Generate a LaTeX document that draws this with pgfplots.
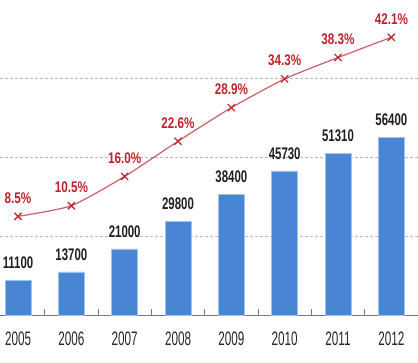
\documentclass[border=0pt]{standalone}
\usepackage{pgfplots}
\pgfplotsset{compat=1.18}
\usepackage{fontspec}
\setmainfont{Liberation Sans}
\newfontfamily\valfont{Liberation Sans}[FakeStretch=0.68]
\newfontfamily\pctfont{Liberation Sans}[FakeStretch=0.76]
\newfontfamily\yearfont{Liberation Sans}[FakeStretch=0.6]
\definecolor{barblue}{RGB}{72,134,212}
\definecolor{baredge}{RGB}{160,195,238}
\definecolor{linered}{RGB}{200,95,105}
\definecolor{markred}{RGB}{190,45,55}
\definecolor{lblred}{RGB}{192,32,40}
\definecolor{gridgray}{RGB}{185,185,185}
\definecolor{axisgray}{RGB}{120,120,120}
\begin{document}
\begin{tikzpicture}
\path[use as bounding box] (0,-48pt) rectangle (418pt,315pt);
\begin{axis}[
  scale only axis, width=418pt, height=315pt,
  xmin=-0.338, xmax=7.5, ymin=0, ymax=100000,
  axis x line*=bottom, axis y line*=left,
  x axis line style={draw=axisgray, line width=0.8pt},
  y axis line style={draw=none},
  xtick={0,...,7},
  xticklabels={2005,2006,2007,2008,2009,2010,2011,2012},
  major tick length=0pt,
  /pgf/number format/assume math mode=true,
  xticklabel style={font=\yearfont\fontsize{19.5}{20}\selectfont, text=black!85, yshift=-13pt},
  ytick={25000,50000,75000}, yticklabel=\empty, scaled y ticks=false,
  ymajorgrids, grid style={draw=gridgray, dash pattern=on 2.5pt off 2.5pt, line width=0.8pt},
  clip=false,
]
\addplot[ycomb, draw=axisgray, line width=1pt, no marks] coordinates {
  (0.5,1800) (1.5,1800) (2.5,1800) (3.5,1800) (4.5,1800) (5.5,1800) (6.5,1800)
};
\addplot[ybar, bar width=26pt, fill=barblue, draw=baredge, line width=0.6pt,
  nodes near coords, point meta=explicit symbolic,
  every node near coord/.append style={font=\valfont\bfseries\fontsize{16.8}{17}\selectfont, text=black!88, yshift=8pt}]
  table[meta=lbl] {
  x y lbl
  0 11100 11100
  1 13700 13700
  2 21000 21000
  3 29800 29800
  4 38400 38400
  5 45730 45730
  6 51310 51310
  7 56400 56400
  };
\end{axis}
\begin{axis}[
  scale only axis, width=418pt, height=315pt,
  xmin=-0.338, xmax=7.5, ymin=-10, ymax=49.1,
  axis lines=none, clip=false,
]
\addplot[smooth, tension=0.35, color=linered, line width=1.2pt,
  mark=x, mark size=5pt, mark options={draw=markred, line width=1.3pt, solid},
  nodes near coords, point meta=explicit symbolic,
  every node near coord/.append style={font=\pctfont\bfseries\fontsize{15.4}{16}\selectfont, text=lblred, yshift=9pt}]
  table[meta=lbl] {
  x y lbl
  0 8.5 8.5\%
  1 10.5 10.5\%
  2 16.0 16.0\%
  3 22.6 22.6\%
  4 28.9 28.9\%
  5 34.3 34.3\%
  6 38.3 38.3\%
  7 42.1 42.1\%
  };
\end{axis}
\end{tikzpicture}
\end{document}
